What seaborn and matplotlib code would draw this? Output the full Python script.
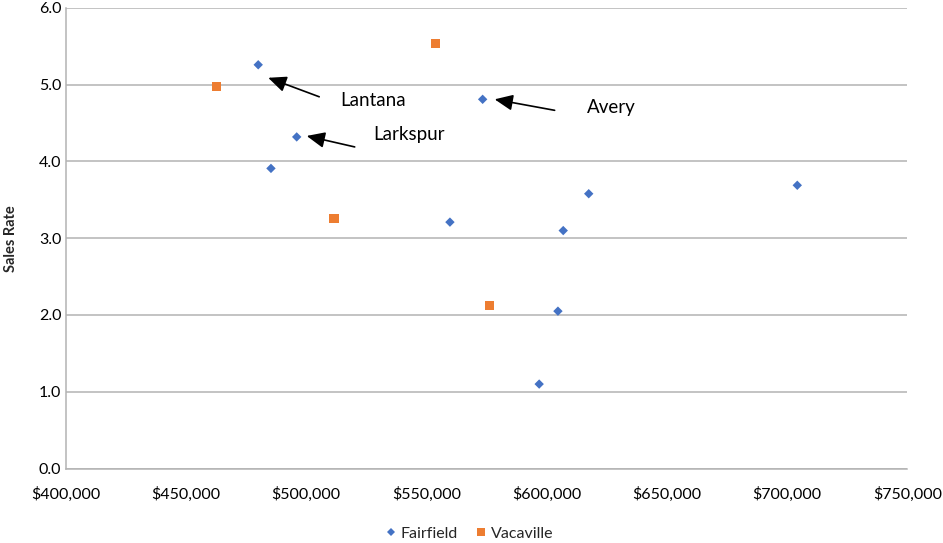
import matplotlib
matplotlib.use("Agg")
import matplotlib.pyplot as plt
import matplotlib.ticker as mticker
import numpy as np
import pandas as pd
import seaborn as sns

# Median price vs. sales rate by community
fairfield_names = ["Lantana", "Larkspur", "", "Avery", "", "", "", "", "", ""]
fairfield_price = [480100, 496100, 485400, 573400, 559800, 606900, 617500, 604700, 596900, 704200]
fairfield_rate = [5.26, 4.32, 3.91, 4.81, 3.21, 3.10, 3.58, 2.05, 1.10, 3.69]

vacaville_price = [462600, 553900, 511600, 576300]
vacaville_rate = [4.98, 5.54, 3.26, 2.12]

city_labels = ["Fairfield", "Vacaville"]
x_ticks = [400000, 450000, 500000, 550000, 600000, 650000, 700000, 750000]
y_ticks = [0.0, 1.0, 2.0, 3.0, 4.0, 5.0, 6.0]

df = pd.DataFrame({
    "Price": fairfield_price + vacaville_price,
    "Sales Rate": fairfield_rate + vacaville_rate,
    "City": [city_labels[0]] * len(fairfield_price) + [city_labels[1]] * len(vacaville_price),
})

sns.set_theme(style="white")
plt.rcParams["font.family"] = ["Lato", "DejaVu Sans"]

fig = plt.figure(figsize=(9.43, 5.43), dpi=100)
ax = fig.add_axes([0.0695, 0.1372, 0.8928, 0.8481])

palette = {"Fairfield": "#4472C4", "Vacaville": "#ED7D31"}
markers = {"Fairfield": "D", "Vacaville": "s"}
sizes = {"Fairfield": 23, "Vacaville": 44}
sns.scatterplot(data=df, x="Price", y="Sales Rate", hue="City", style="City",
                size="City", sizes=sizes, palette=palette, markers=markers,
                linewidth=0, ax=ax, zorder=3)

ax.set_xlim(x_ticks[0], x_ticks[-1])
ax.set_ylim(y_ticks[0], y_ticks[-1])
ax.set_xticks(x_ticks)
ax.set_yticks(y_ticks)
ax.xaxis.set_major_formatter(mticker.FuncFormatter(lambda v, _: f"${v:,.0f}"))
ax.yaxis.set_major_formatter(mticker.FuncFormatter(lambda v, _: f"{v:.1f}"))
ax.tick_params(axis="both", length=0, labelsize=11.5, colors="#000000")
ax.tick_params(axis="x", pad=13)
ax.tick_params(axis="y", pad=3)

ax.grid(axis="y", color="#b3b3b3", linewidth=1.1)
ax.grid(axis="x", visible=False)
for side in ["top", "right"]:
    ax.spines[side].set_visible(False)
for side in ["left", "bottom"]:
    ax.spines[side].set_color("#b3b3b3")
    ax.spines[side].set_linewidth(1.1)

ax.set_xlabel("")
ax.set_ylabel("Sales Rate", fontsize=10.5, fontweight="bold", labelpad=15)

# Callouts for named communities: arrow tip, arrow tail and label offsets in pixels
callouts = {
    "Lantana": ((10, -13), (61, -32), (82, -36)),
    "Larkspur": ((10, 1), (58, -10), (77, 2)),
    "Avery": ((12, 0), (72, -11), (104, -8)),
}
for name, px, py in zip(fairfield_names, fairfield_price, fairfield_rate):
    if name not in callouts:
        continue
    tip, tail, lab = callouts[name]
    tip_pt = ax.transData.transform((px, py)) + np.array(tip)
    tip_data = ax.transData.inverted().transform(tip_pt)
    ax.annotate("", xy=tip_data, xytext=(tail[0] - tip[0], tail[1] - tip[1]),
                xycoords="data", textcoords="offset pixels",
                arrowprops=dict(arrowstyle="-|>,head_length=0.5,head_width=0.22",
                                color="black", lw=1.2,
                                mutation_scale=22, shrinkA=0, shrinkB=0))
    ax.annotate(name, xy=(px, py), xytext=lab, textcoords="offset pixels",
                ha="left", va="center", fontsize=13.5, color="black")

sns.move_legend(ax, "center", bbox_to_anchor=(0.478, -0.142), ncol=2, frameon=False,
                title=None, fontsize=11.5, handletextpad=0.1, columnspacing=1.0,
                handlelength=1.0, markerscale=0.85)

fig.savefig("out.png", dpi=100)
